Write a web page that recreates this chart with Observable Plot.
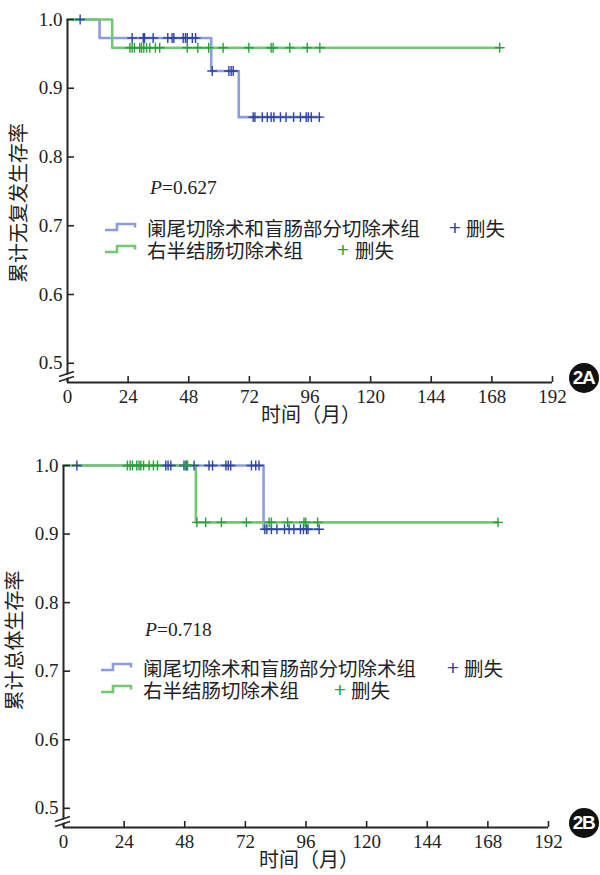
<!DOCTYPE html>
<html>
<head>
<meta charset="utf-8">
<script src="https://cdn.jsdelivr.net/npm/d3@7"></script>
<script src="https://cdn.jsdelivr.net/npm/@observablehq/plot@0.6"></script>
<style>
  body { margin: 0; background: #fff; }
  #wrap { position: relative; width: 600px; height: 875px; overflow: hidden; background: #fff; }
  #wrap svg.plot { position: absolute; left: 0; }
  .abs { position: absolute; white-space: nowrap; line-height: 1; transform: translateY(-50%); }
  .cjk { font-family: "Noto Sans CJK SC", "Noto Sans", sans-serif; font-size: 19.5px; color: #222; }
  .pval { font-family: "Liberation Serif", "DejaVu Serif", serif; font-size: 19.5px; color: #222; }
  .plus { font-family: "Liberation Sans", sans-serif; font-size: 21px; transform: translate(-50%, -52%); }
  .badge { position: absolute; width: 30px; height: 30px; border-radius: 50%; background: #111;
           color: #fff; font: bold 19px "Liberation Sans", sans-serif; letter-spacing: -1.5px;
           display: flex; align-items: center; justify-content: center; transform: translate(-50%, -50%); }
</style>
</head>
<body>
<div id="wrap"></div>
<script>
// ---------- shared axis data ----------
const xTicks = [0, 24, 48, 72, 96, 120, 144, 168, 192];
const yTicks = [0.5, 0.6, 0.7, 0.8, 0.9, 1.0];
const groupNames = ["阑尾切除术和盲肠部分切除术组", "右半结肠切除术组"];
const censorLabel = "删失";
const xTitle = "时间（月）";

// ---------- Panel 2A: recurrence-free survival ----------
const titleA = "累计无复发生存率";
const pA = "0.627";
const aBlueEventT = [0, 12.7, 56.9, 67.8];
const aBlueEventS = [1.0, 0.973, 0.925, 0.858];
const aBlueEnd = 99.9;
const aBlueCensor = [5, 25.6, 30.0, 30.5, 33.9, 39.7, 41.4, 42.1, 45.8, 46.7, 47.4, 49.4, 50.7,
  57.3, 63.9, 64.8, 65.6,
  73.5, 74.2, 77.1, 79.1, 80.6, 81.7, 84.3, 86.5, 89.5, 92.2, 94.5, 95.3, 96.5, 99.7];
const aGreenEventT = [0, 17.7];
const aGreenEventS = [1.0, 0.959];
const aGreenEnd = 171.1;
const aGreenCensor = [24.7, 25.6, 26.5, 28.6, 29.3, 30.2, 31.3, 32.6, 34.8, 36.5, 47.4, 51.6, 55.9,
  61.6, 71.8, 80.6, 81.4, 88.0, 94.9, 99.9, 171.1];

// ---------- Panel 2B: overall survival ----------
const titleB = "累计总体生存率";
const pB = "0.718";
const bBlueEventT = [0, 79.2];
const bBlueEventS = [1.0, 0.907];
const bBlueEnd = 101.2;
const bBlueCensor = [5.3, 40.5, 41.4, 42.5, 47.7, 48.8, 51.7, 57.6, 59.0, 64.3, 65.2, 66.2, 74.4, 76.1, 77.4,
  79.7, 80.5, 82.3, 84.5, 87.5, 89.3, 91.2, 93.8, 95.0, 96.2, 96.8, 101.2];
const bGreenEventT = [0, 52.4];
const bGreenEventS = [1.0, 0.917];
const bGreenEnd = 172.0;
const bGreenCensor = [25.3, 26.4, 27.3, 29.0, 29.9, 30.6, 31.7, 33.9, 35.6, 37.2, 48.4, 49.1,
  52.8, 56.3, 62.5, 72.4, 81.4, 82.3, 88.7, 95.2, 95.9, 100.6, 172.0];

// ---------- styles ----------
const YMIN = 0.472;
const BLUE_LINE = "#8a9de0", BLUE_MARK = "#2f45a6";
const GREEN_LINE = "#74c874", GREEN_MARK = "#2a9f3c";
const AX = "#262626";
const SERIF = "Liberation Serif, DejaVu Serif, serif";
const CJK = "Noto Sans CJK SC, Noto Sans, sans-serif";

function survAt(T, S, t) {
  let s = S[0];
  for (let i = 0; i < T.length; i++) if (T[i] <= t) s = S[i];
  return s;
}
function stepData(T, S, end) {
  const d = T.map((t, i) => ({t, s: S[i]}));
  d.push({t: end, s: S[S.length - 1]});
  return d;
}
function censorData(T, S, C) {
  return C.map(t => ({t, s: survAt(T, S, t)}));
}

function makePanel(cfg) {
  const W = 600, H = cfg.height;
  const plotH = H - cfg.mt - cfg.mb;
  const plotW = W - cfg.ml - cfg.mr;
  const breakMark = (index, scales) => {
    const x0 = scales.x(0), y0 = scales.y(YMIN);
    const g = d3.create("svg:g");
    g.append("polygon")
      .attr("points", `${x0-8},${y0-1.5} ${x0+7},${y0-6.5} ${x0+7},${y0-9.5} ${x0-8},${y0-4.5}`)
      .attr("fill", "white");
    g.append("line").attr("x1", x0-8).attr("y1", y0-0.5).attr("x2", x0+7).attr("y2", y0-5.5)
      .attr("stroke", AX).attr("stroke-width", 1.6);
    g.append("line").attr("x1", x0-8).attr("y1", y0-5.5).attr("x2", x0+7).attr("y2", y0-10.5)
      .attr("stroke", AX).attr("stroke-width", 1.6);
    return g.node();
  };
  const svg = Plot.plot({
    width: W, height: H,
    marginTop: cfg.mt, marginBottom: cfg.mb, marginLeft: cfg.ml, marginRight: cfg.mr,
    x: {domain: [0, 192], axis: null},
    y: {domain: [YMIN, 1.0], axis: null},
    style: {background: "transparent", fontFamily: SERIF, color: AX, overflow: "visible"},
    marks: [
      Plot.line(stepData(cfg.blueT, cfg.blueS, cfg.blueEnd),
        {x: "t", y: "s", curve: "step-after", stroke: BLUE_LINE, strokeWidth: 2.6}),
      Plot.line(stepData(cfg.greenT, cfg.greenS, cfg.greenEnd),
        {x: "t", y: "s", curve: "step-after", stroke: GREEN_LINE, strokeWidth: 2.6}),
      Plot.dot(censorData(cfg.blueT, cfg.blueS, cfg.blueC),
        {x: "t", y: "s", symbol: "plus", r: 3.3, stroke: BLUE_MARK, strokeWidth: 1.4}),
      Plot.dot(censorData(cfg.greenT, cfg.greenS, cfg.greenC),
        {x: "t", y: "s", symbol: "plus", r: 3.3, stroke: GREEN_MARK, strokeWidth: 1.4}),
      Plot.ruleX([0], {stroke: AX, strokeWidth: 2}),
      Plot.ruleY([YMIN], {stroke: AX, strokeWidth: 2}),
      Plot.tickX(xTicks, {x: d => d, insetTop: plotH - 6, stroke: AX, strokeWidth: 1.6}),
      Plot.tickY(yTicks, {y: d => d, insetRight: plotW - 7, stroke: AX, strokeWidth: 1.6}),
      breakMark,
      Plot.axisX({ticks: xTicks, tickSize: 0, tickPadding: 7, fontSize: 19, label: null,
        tickFormat: d => String(d), fill: "#222"}),
      Plot.axisY({ticks: yTicks, tickSize: 0, tickPadding: 5, fontSize: 19, label: null,
        tickFormat: d => d.toFixed(1), fill: "#222"}),
      Plot.text([cfg.title], {text: d => d, frameAnchor: "left", dx: -48, dy: cfg.titleDy, rotate: -90,
        textAnchor: "middle", lineAnchor: "middle",
        fontSize: 20, fontFamily: CJK, fill: "#222"}),
      Plot.text([xTitle], {text: d => d, frameAnchor: "bottom", dx: cfg.xtDx, dy: 33,
        textAnchor: "middle", lineAnchor: "middle",
        fontSize: 20, fontFamily: CJK, fill: "#222"})
    ]
  });
  svg.classList.add("plot");
  svg.style.top = cfg.top + "px";
  return svg;
}

const wrap = document.getElementById("wrap");

function addDiv(cls, html, left, top, color) {
  const d = document.createElement("div");
  d.className = cls;
  d.innerHTML = html;
  d.style.left = left + "px";
  d.style.top = top + "px";
  if (color) d.style.color = color;
  wrap.appendChild(d);
  return d;
}
function addIcon(left, cy, color) {
  const ns = "http://www.w3.org/2000/svg";
  const s = document.createElementNS(ns, "svg");
  s.setAttribute("width", 34); s.setAttribute("height", 12);
  s.style.position = "absolute"; s.style.left = left + "px"; s.style.top = (cy - 6) + "px";
  const p = document.createElementNS(ns, "path");
  p.setAttribute("d", "M1,8 H13 V2 H31 V5.5");
  p.setAttribute("fill", "none"); p.setAttribute("stroke", color); p.setAttribute("stroke-width", 2.6);
  s.appendChild(p);
  wrap.appendChild(s);
}
function addLegend(L, p) {
  addDiv("abs pval", `<i>P</i>=${p}`, L.px, L.py);
  addIcon(L.iconX, L.l1, BLUE_LINE);
  addIcon(L.iconX, L.l2, GREEN_LINE);
  addDiv("abs cjk", groupNames[0], L.textX, L.l1);
  addDiv("abs cjk", groupNames[1], L.textX, L.l2);
  addDiv("abs plus", "+", L.plus1, L.l1, BLUE_MARK);
  addDiv("abs cjk", censorLabel, L.cens1, L.l1);
  addDiv("abs plus", "+", L.plus2, L.l2, GREEN_MARK);
  addDiv("abs cjk", censorLabel, L.cens2, L.l2);
}

wrap.appendChild(makePanel({
  top: 0, height: 437, mt: 19, mb: 55, ml: 67, mr: 48, title: titleA, titleDy: 2, xtDx: 1,
  blueT: aBlueEventT, blueS: aBlueEventS, blueEnd: aBlueEnd, blueC: aBlueCensor,
  greenT: aGreenEventT, greenS: aGreenEventS, greenEnd: aGreenEnd, greenC: aGreenCensor
}));
wrap.appendChild(makePanel({
  top: 437, height: 438, mt: 28, mb: 48, ml: 63, mr: 52, title: titleB, titleDy: -6, xtDx: 3,
  blueT: bBlueEventT, blueS: bBlueEventS, blueEnd: bBlueEnd, blueC: bBlueCensor,
  greenT: bGreenEventT, greenS: bGreenEventS, greenEnd: bGreenEnd, greenC: bGreenCensor
}));

addLegend({px: 150, py: 188, l1: 228, l2: 250, iconX: 104, textX: 147,
  plus1: 455, cens1: 466, plus2: 343, cens2: 355}, pA);
addLegend({px: 145, py: 630, l1: 668, l2: 690, iconX: 100, textX: 143,
  plus1: 453, cens1: 464, plus2: 340, cens2: 351}, pB);

addDiv("badge", "2A", 583.5, 377.5);
addDiv("badge", "2B", 583.5, 823);
</script>
</body>
</html>
